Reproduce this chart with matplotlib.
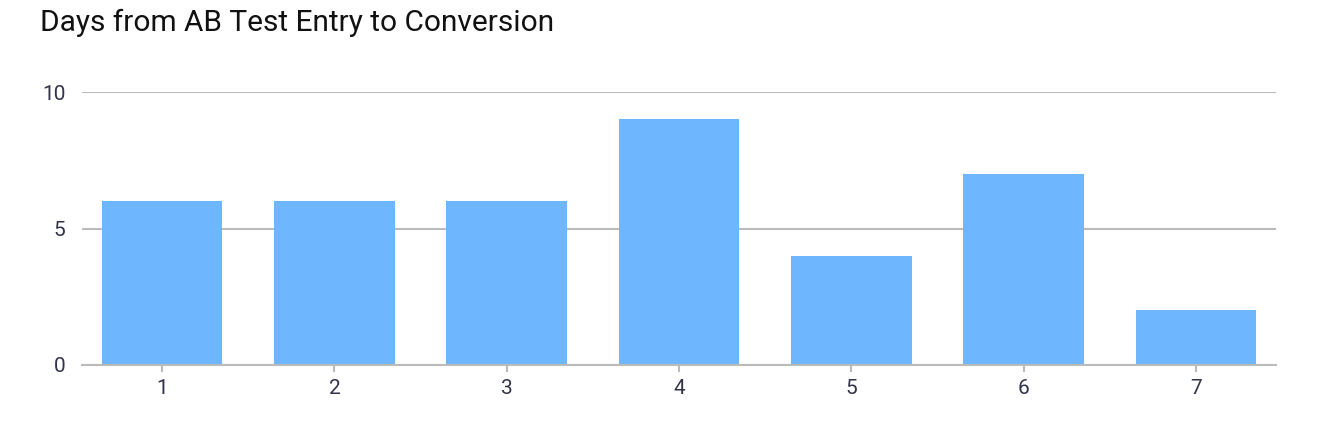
import matplotlib
matplotlib.use("Agg")
import matplotlib.pyplot as plt

categories = ["1", "2", "3", "4", "5", "6", "7"]
values = [6, 6, 6, 9, 4, 7, 2]
yticks = [0, 5, 10]
title = "Days from AB Test Entry to Conversion"

W, H = 1338, 438
fig = plt.figure(figsize=(W / 100, H / 100), dpi=100)
plt.rcParams['font.family'] = ['Roboto', 'DejaVu Sans']
text_color = "#33334a"

left, right = 82 / W, 1276 / W
bottom, top = (H - 365) / H, (H - 92) / H
ax = fig.add_axes([left, bottom, right - left, top - bottom])

x = list(range(1, len(categories) + 1))
ax.bar(x, values, width=0.70, color="#6eb6fe", zorder=2)
ax.set_xlim(1 - 0.465, len(categories) + 0.465)
ax.set_ylim(0, 10)
ax.set_yticks(yticks)
ax.set_xticks(x)
ax.set_xticklabels(categories)
ax.grid(axis="y", color="#bbbbbb", linewidth=1.5, zorder=1)
ax.set_axisbelow(True)
for s in ["top", "right", "left"]:
    ax.spines[s].set_visible(False)
ax.spines["bottom"].set_color("#bbbbbb")
ax.spines["bottom"].set_linewidth(1.5)
ax.spines["bottom"].set_zorder(3)
ax.tick_params(axis="y", length=0, pad=12, labelsize=15, labelcolor=text_color)
ax.tick_params(axis="x", length=5, width=1.5, color="#bbbbbb", pad=5, labelsize=15, labelcolor=text_color)

fig.text(40 / W, 1 - 23 / H, title, fontsize=21.5, color="#111111", va="center", ha="left")

fig.savefig("out.png", dpi=100)
